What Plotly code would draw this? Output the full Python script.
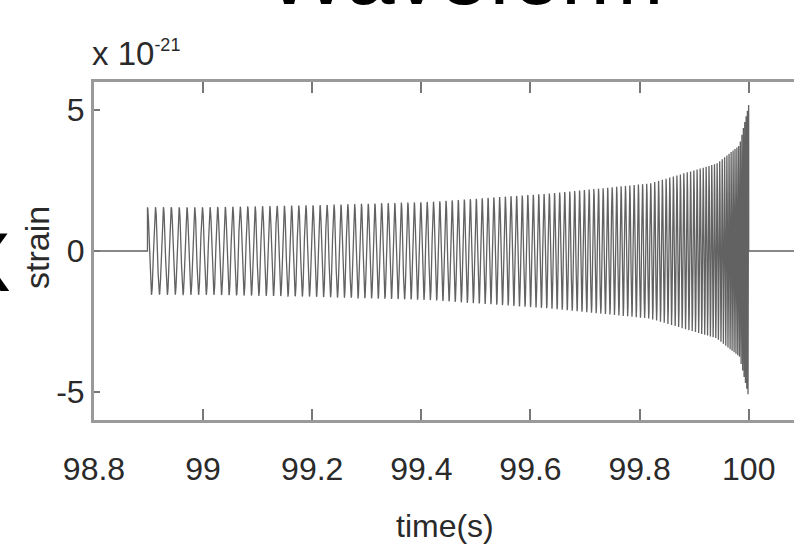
import numpy as np
import plotly.graph_objects as go

# ---- values ----
x_tick_vals = [98.8, 99.0, 99.2, 99.4, 99.6, 99.8, 100.0]
x_tick_text = ["98.8", "99", "99.2", "99.4", "99.6", "99.8", "100"]
y_tick_vals = [-5, 0, 5]
y_tick_text = ["-5", "0", "5"]

t_start = 98.8          # left end of the flat line
t_chirp_on = 98.898     # waveform switches on
t_merge = 100.0         # end of the chirp
t_end = 100.083         # right edge of the visible plot

# envelope of the strain (units of 1e-21), read at these times
env_t = [98.898, 99.0, 99.2, 99.416, 99.636, 99.819, 99.941, 99.983, 100.0]
env_a = [1.55, 1.55, 1.62, 1.74, 2.04, 2.40, 3.10, 3.75, 5.20]

# oscillation frequency (Hz), estimated from cycle spacing at these times
freq_t = [98.898, 99.2, 99.4, 99.6, 99.8, 99.9, 99.95, 99.98, 100.0]
freq_hz = [68, 77, 85, 99, 129, 167, 217, 305, 450]

# ---- build the trace from the arrays above ----
fs = 16000.0
t_wave = np.arange(t_chirp_on, t_merge, 1.0 / fs)
f_inst = np.interp(t_wave, freq_t, freq_hz)
phase = 2 * np.pi * np.concatenate([[0.0], np.cumsum(f_inst[:-1]) / fs])
amp = np.interp(t_wave, env_t, env_a)
h_wave = amp * np.cos(phase)

t_all = np.concatenate([[t_start, t_chirp_on], t_wave, [t_merge, t_end]])
h_all = np.concatenate([[0.0, 0.0], h_wave, [0.0, 0.0]])

fig = go.Figure()
fig.add_trace(go.Scatter(
    x=t_all, y=h_all, mode="lines",
    line=dict(color="#626262", width=1.3),
    hoverinfo="skip",
))

FAM = "Liberation Sans, Arial, sans-serif"
label_font = dict(family=FAM, size=32, color="#2a2a2a")

# plot area in pixels: left 94, right 794, top 82, bottom 420
PL, PR, PT, PB = 94, 794, 82, 420
PW, PH = PR - PL, PB - PT


def px(xp):
    return (xp - PL) / PW


def py(yp):
    return (PB - yp) / PH


fig.update_layout(
    width=794, height=554,
    margin=dict(l=PL, r=794 - PR, t=PT, b=554 - PB, autoexpand=False),
    plot_bgcolor="white", paper_bgcolor="white",
    showlegend=False,
    xaxis=dict(
        range=[t_start, t_end], automargin=False,
        tickmode="array", tickvals=x_tick_vals, ticktext=x_tick_text,
        ticks="inside", ticklen=11, tickwidth=1.5, tickcolor="#777",
        showline=True, linecolor="#9a9a9a", linewidth=3, mirror="ticks",
        showgrid=False, zeroline=False,
        tickfont=label_font, ticklabelstandoff=19,
    ),
    yaxis=dict(
        range=[-6, 6], automargin=False,
        tickmode="array", tickvals=y_tick_vals, ticktext=y_tick_text,
        ticks="inside", ticklen=6, tickwidth=1.5, tickcolor="#777",
        showline=True, linecolor="#9a9a9a", linewidth=3, mirror=False,
        showgrid=False, zeroline=False,
        tickfont=label_font, ticklabelstandoff=0,
    ),
    annotations=[
        dict(text="time(s)", xref="paper", yref="paper",
             x=px(445), y=py(526), xanchor="center", yanchor="middle", showarrow=False,
             font=dict(family=FAM, size=32, color="#2a2a2a")),
        dict(text="strain", xref="paper", yref="paper", textangle=-90,
             x=px(37), y=py(248), xanchor="center", yanchor="middle", showarrow=False,
             font=dict(family=FAM, size=34, color="#2a2a2a")),
        dict(text="x 10<sup><span style='font-size:18px'>-21</span></sup>",
             xref="paper", yref="paper",
             x=px(90), y=py(74), xanchor="left", yanchor="bottom", showarrow=False,
             font=dict(family=FAM, size=33, color="#2a2a2a")),
        dict(text="Waveform", xref="paper", yref="paper",
             x=px(465), y=py(-27), xanchor="center", yanchor="middle",
             showarrow=False,
             font=dict(family=FAM, size=88, color="#000")),
        dict(text="X", xref="paper", yref="paper",
             x=px(13), y=py(262), xanchor="right", yanchor="middle",
             showarrow=False,
             font=dict(family=FAM, size=84, color="#000")),
    ],
)

fig.write_html("out.html", config={"displayModeBar": False},
               post_script="document.body.style.margin='0px';")
